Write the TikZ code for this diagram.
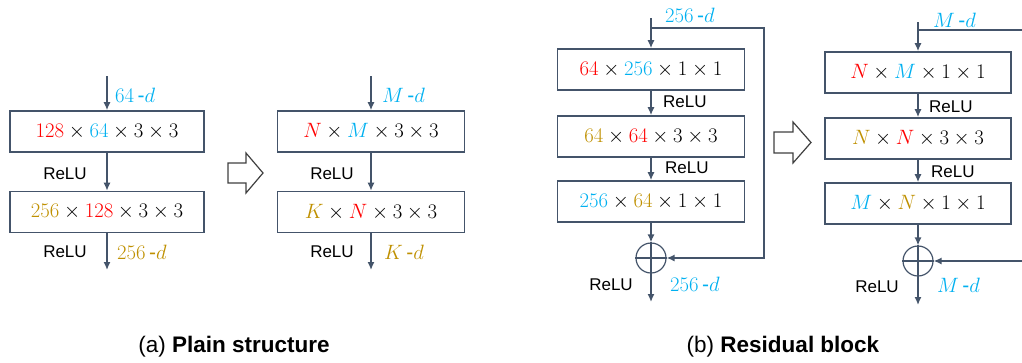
\documentclass[tikz,border=0pt]{standalone}
\usepackage{fontspec}
\setmainfont{Liberation Sans}
\usetikzlibrary{arrows.meta}
\definecolor{cred}{HTML}{FF0000}
\definecolor{cblue}{HTML}{00B0F0}
\definecolor{cgold}{HTML}{BF9000}
\definecolor{cline}{HTML}{44546A}
\newcommand{\cR}[1]{{\color{cred}#1}}
\newcommand{\cB}[1]{{\color{cblue}#1}}
\newcommand{\cG}[1]{{\color{cgold}#1}}
\newcommand{\hy}{\,\mbox{-}}
\begin{document}
\begin{tikzpicture}[x=1pt,y=-1pt,
 box/.style={draw=cline,line width=1.6pt,minimum width=194pt,minimum height=41pt,inner sep=0pt,font=\fontsize{21}{25}\selectfont},
 arr/.style={draw=cline,line width=1.4pt,-{Latex[length=8pt,width=7pt]}},
 ln/.style={draw=cline,line width=1.4pt},
 lbl/.style={font=\fontsize{17}{20}\selectfont,inner sep=0pt},
 dim/.style={font=\fontsize{21}{25}\selectfont,inner sep=0pt,anchor=west},
 sumc/.style={circle,draw=cline,line width=1.2pt,minimum size=30pt,inner sep=0pt},
 hollow/.style={draw=black!75,line width=1.2pt,fill=white},
 captxt/.style={font=\fontsize{22.5}{26}\selectfont,inner sep=0pt}]
\useasboundingbox (0,0) rectangle (1022,362);
% ---------- (a) left ----------
\coordinate (ain) at (107,76);
\node[box] (a1) at (107,131.5) {$\cR{128}\times\cB{64}\times3\times3$};
\node[box] (a2) at (107,212) {$\cG{256}\times\cR{128}\times3\times3$};
\coordinate (aout) at (107,270);
\draw[arr] (ain) -- (a1);
\draw[arr] (a1) -- (a2);
\draw[arr] (a2) -- (aout);
\node[dim] (ad1) at (115,95) {$\cB{64\hy d}$};
\node[lbl] (ar1) at (65,174) {ReLU};
\node[lbl] (ar2) at (65,252) {ReLU};
\node[dim] (ad2) at (117,252) {$\cG{256\hy d}$};
% hollow arrow 1
\draw[hollow] (228,163) -- (246,163) -- (246,153) -- (263,173) -- (246,193) -- (246,183) -- (228,183) -- cycle;
% ---------- (a) right ----------
\coordinate (min) at (371,76);
\node[box,minimum width=187pt] (m1) at (371,131.5) {$\cR{N}\times\cB{M}\times3\times3$};
\node[box,minimum width=187pt] (m2) at (371,212) {$\cG{K}\times\cR{N}\times3\times3$};
\coordinate (mout) at (371,270);
\draw[arr] (min) -- (m1);
\draw[arr] (m1) -- (m2);
\draw[arr] (m2) -- (mout);
\node[dim] (md1) at (382,95) {$\cB{M\hy d}$};
\node[lbl] (mr1) at (332,174) {ReLU};
\node[lbl] (mr2) at (332,252) {ReLU};
\node[dim] (md2) at (384,252) {$\cG{K\hy d}$};
% ---------- (b) left ----------
\coordinate (bin) at (651,18);
\coordinate (b0) at (651,28);
\coordinate (bc1) at (764,28);
\coordinate (bc2) at (764,258);
\node[box,minimum width=187pt] (b1) at (651,69.5) {$\cR{64}\times\cB{256}\times1\times1$};
\node[box,minimum width=187pt] (b2) at (651,136.5) {$\cG{64}\times\cR{64}\times3\times3$};
\node[box,minimum width=187pt] (b3) at (651,201.5) {$\cB{256}\times\cG{64}\times1\times1$};
\node[sumc] (bsum) at (651,258) {};
\draw[cline,line width=1.2pt] (bsum.north) -- (bsum.south) (bsum.west) -- (bsum.east);
\coordinate (bout) at (651,302);
\draw[arr] (bin) -- (b1);
\draw[arr] (b1) -- (b2);
\draw[arr] (b2) -- (b3);
\draw[arr] (b3) -- (bsum);
\draw[arr] (bsum) -- (bout);
\draw[arr] (b0) -- (bc1) -- (bc2) -- (bsum);
\node[dim] (bd1) at (665,15) {$\cB{256\hy d}$};
\node[lbl,anchor=west] (br1) at (663,102) {ReLU};
\node[lbl,anchor=west] (br2) at (665,168) {ReLU};
\node[lbl] (br3) at (611,285) {ReLU};
\node[dim] (bd2) at (670,284) {$\cB{256\hy d}$};
% hollow arrow 2
\draw[hollow] (774,132) -- (793,132) -- (793,122) -- (811,142.5) -- (793,163) -- (793,153) -- (774,153) -- cycle;
% ---------- (b) right ----------
\coordinate (cin) at (918,22);
\coordinate (c0) at (918,30);
\coordinate (ce1) at (1022,30);
\coordinate (ce2) at (1022,261);
\node[box,minimum width=186pt] (c1) at (918,72.5) {$\cR{N}\times\cB{M}\times1\times1$};
\node[box,minimum width=186pt] (c2) at (918,138.5) {$\cG{N}\times\cR{N}\times3\times3$};
\node[box,minimum width=186pt] (c3) at (918,203.5) {$\cB{M}\times\cG{N}\times1\times1$};
\node[sumc] (csum) at (918,261) {};
\draw[cline,line width=1.2pt] (csum.north) -- (csum.south) (csum.west) -- (csum.east);
\coordinate (cout) at (918,305);
\draw[arr] (cin) -- (c1);
\draw[arr] (c1) -- (c2);
\draw[arr] (c2) -- (c3);
\draw[arr] (c3) -- (csum);
\draw[arr] (csum) -- (cout);
\draw[ln] (c0) -- (ce1);
\draw[arr] (ce2) -- (csum);
\node[dim] (cd1) at (933,20) {$\cB{M\hy d}$};
\node[lbl,anchor=west] (cr1) at (929,107) {ReLU};
\node[lbl,anchor=west] (cr2) at (931,172) {ReLU};
\node[lbl] (cr3) at (877,287) {ReLU};
\node[dim] (cd2) at (937,285) {$\cB{M\hy d}$};
% ---------- captions ----------
\node[captxt] (capa) at (234,347) {(a) \textbf{Plain structure}};
\node[captxt] (capb) at (783,347) {(b) \textbf{Residual block}};
\end{tikzpicture}
\end{document}
